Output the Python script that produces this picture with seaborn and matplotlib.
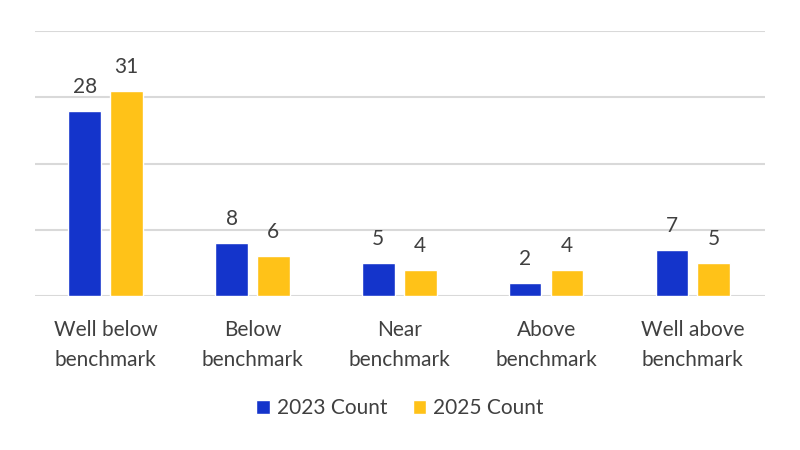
import matplotlib
matplotlib.use("Agg")
import matplotlib.pyplot as plt
import seaborn as sns
import pandas as pd
from matplotlib.patches import Patch

categories = ["Well below\nbenchmark", "Below\nbenchmark", "Near\nbenchmark",
              "Above\nbenchmark", "Well above\nbenchmark"]
series_names = ["2023 Count", "2025 Count"]
counts_2023 = [28, 8, 5, 2, 7]
counts_2025 = [31, 6, 4, 4, 5]
colors = ["#1434CB", "#FFC218"]
yticks = [0, 10, 20, 30, 40]

df = pd.DataFrame({
    "category": categories * 2,
    "series": [series_names[0]] * 5 + [series_names[1]] * 5,
    "count": counts_2023 + counts_2025,
})

sns.set_theme(style="white")
plt.rcParams["font.family"] = ["Lato", "DejaVu Sans"]

fig = plt.figure(figsize=(8, 4.5), dpi=100)
ax = fig.add_axes([0.044, 0.342, 0.912, 0.589])

sns.barplot(data=df, x="category", y="count", hue="series", order=categories,
            hue_order=series_names, palette=colors, width=0.57, gap=0.22,
            saturation=1, errorbar=None, ax=ax, legend=False, zorder=3)

for cont in ax.containers:
    ax.bar_label(cont, padding=10, fontsize=15, color="#404040")

ax.set_ylim(0, 40)
ax.set_xlim(-0.48, 4.49)
ax.set_yticks(yticks)
ax.set_yticklabels([])
ax.tick_params(axis="y", length=0)
ax.tick_params(axis="x", length=0, pad=17, labelsize=15, labelcolor="#404040")
ax.grid(axis="y", color="#D9D9D9", linewidth=1.5, zorder=0)
ax.set_axisbelow(True)
for s in ax.spines.values():
    s.set_visible(False)
ax.set_xlabel("")
ax.set_ylabel("")
for lbl in ax.get_xticklabels():
    lbl.set_linespacing(1.65)

handles = [Patch(facecolor=c, label=n) for c, n in zip(colors, series_names)]
fig.legend(handles=handles, loc="center", bbox_to_anchor=(0.5, 0.093), ncol=2,
           frameon=False, fontsize=15, labelcolor="#404040",
           handlelength=0.65, handleheight=0.65, handletextpad=0.35, columnspacing=1.2)

fig.savefig("out.png", dpi=100, facecolor="white")
